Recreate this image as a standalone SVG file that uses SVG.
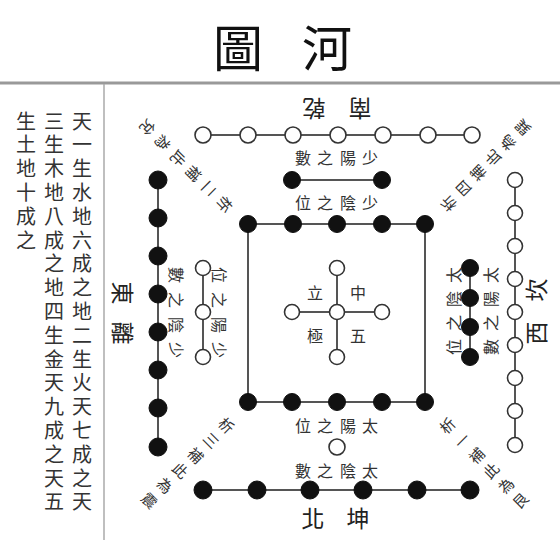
<svg xmlns="http://www.w3.org/2000/svg" width="560" height="540" viewBox="0 0 560 540">
<style>
.t{font-family:"Noto Sans CJK TC","Noto Sans CJK SC",sans-serif;fill:#333;text-anchor:middle;dominant-baseline:central}
.title{font-size:50px;fill:#111}
.side{font-size:20px}
.dir{font-size:23px;fill:#222}
.lab{font-size:16px}
.diag{font-size:15px}
.o{fill:#fff;stroke:#333;stroke-width:1.6}
.b{fill:#111;stroke:#111;stroke-width:1}
.ln{stroke:#555;stroke-width:2;fill:none}
</style>
<rect x="0" y="0" width="560" height="540" fill="#fff"/>
<g id="frame">
<line x1="0" y1="83" x2="560" y2="83" stroke="#999" stroke-width="3"/>
<line x1="104" y1="84" x2="104" y2="540" stroke="#aaa" stroke-width="1.5"/>
</g>
<g id="title"><text class="t title" x="238 327" y="45">圖河</text></g>
<g id="left-text">
<text class="t side" x="82 82 82 82 82 82 82 82 82 82 82 82 82 82 82 82 82" y="120 143.8 167.6 191.4 215.2 239 262.8 286.6 310.4 334.2 358 381.8 405.6 429.4 453.2 477 500.8">天一生水地六成之地二生火天七成之天</text>
<text class="t side" x="54 54 54 54 54 54 54 54 54 54 54 54 54 54 54 54 54" y="120 143.8 167.6 191.4 215.2 239 262.8 286.6 310.4 334.2 358 381.8 405.6 429.4 453.2 477 500.8">三生木地八成之地四生金天九成之天五</text>
<text class="t side" x="26 26 26 26 26 26" y="120 143.8 167.6 191.4 215.2 239">生土地十成之</text>
</g>
<g id="connectors">
<line class="ln" x1="203" y1="135" x2="472" y2="135"/>
<line class="ln" x1="292" y1="180" x2="382" y2="180"/>
<rect class="ln" x="248" y="224" width="177" height="178"/>
<line class="ln" x1="337" y1="268" x2="337" y2="357"/>
<line class="ln" x1="292" y1="312" x2="382" y2="312"/>
<line class="ln" x1="158" y1="180" x2="158" y2="447"/>
<line class="ln" x1="203" y1="268" x2="203" y2="357"/>
<line class="ln" x1="470" y1="268" x2="470" y2="357"/>
<line class="ln" x1="515" y1="180" x2="515" y2="445"/>
<line class="ln" x1="203" y1="490" x2="470" y2="490"/>
</g>
<g id="south-seven">
<circle class="o" cx="203" cy="135" r="8"/><circle class="o" cx="248" cy="135" r="8"/><circle class="o" cx="293" cy="135" r="8"/><circle class="o" cx="338" cy="135" r="8"/><circle class="o" cx="383" cy="135" r="8"/><circle class="o" cx="428" cy="135" r="8"/><circle class="o" cx="472" cy="135" r="8"/>
</g>
<g id="south-two">
<circle class="b" cx="292" cy="180" r="8.5"/><circle class="b" cx="382" cy="180" r="8.5"/>
</g>
<g id="center-ten">
<circle class="b" cx="248" cy="224" r="8.5"/><circle class="b" cx="293" cy="224" r="8.5"/><circle class="b" cx="337" cy="224" r="8.5"/><circle class="b" cx="382" cy="224" r="8.5"/><circle class="b" cx="425" cy="224" r="8.5"/>
<circle class="b" cx="248" cy="402" r="8.5"/><circle class="b" cx="292" cy="402" r="8.5"/><circle class="b" cx="337" cy="402" r="8.5"/><circle class="b" cx="382" cy="402" r="8.5"/><circle class="b" cx="425" cy="402" r="8.5"/>
</g>
<g id="center-five">
<circle class="o" cx="337" cy="268" r="7.5"/><circle class="o" cx="292" cy="312" r="7.5"/><circle class="o" cx="337" cy="312" r="7.5"/><circle class="o" cx="382" cy="312" r="7.5"/><circle class="o" cx="337" cy="357" r="7.5"/>
</g>
<g id="east-eight">
<circle class="b" cx="158" cy="180" r="9"/><circle class="b" cx="158" cy="218" r="9"/><circle class="b" cx="158" cy="256" r="9"/><circle class="b" cx="158" cy="294" r="9"/><circle class="b" cx="158" cy="332" r="9"/><circle class="b" cx="158" cy="370" r="9"/><circle class="b" cx="158" cy="408" r="9"/><circle class="b" cx="158" cy="447" r="9"/>
</g>
<g id="east-three">
<circle class="o" cx="203" cy="268" r="7.5"/><circle class="o" cx="203" cy="312" r="7.5"/><circle class="o" cx="203" cy="357" r="7.5"/>
</g>
<g id="west-four">
<circle class="b" cx="470" cy="268" r="8.5"/><circle class="b" cx="470" cy="298" r="8.5"/><circle class="b" cx="470" cy="327" r="8.5"/><circle class="b" cx="470" cy="357" r="8.5"/>
</g>
<g id="west-nine">
<circle class="o" cx="515" cy="180" r="7.5"/><circle class="o" cx="515" cy="213" r="7.5"/><circle class="o" cx="515" cy="246" r="7.5"/><circle class="o" cx="515" cy="279" r="7.5"/><circle class="o" cx="515" cy="312" r="7.5"/><circle class="o" cx="515" cy="345" r="7.5"/><circle class="o" cx="515" cy="378" r="7.5"/><circle class="o" cx="515" cy="411" r="7.5"/><circle class="o" cx="515" cy="445" r="7.5"/>
</g>
<g id="north-one"><circle class="o" cx="337" cy="447" r="8"/></g>
<g id="north-six">
<circle class="b" cx="203" cy="490" r="9"/><circle class="b" cx="257" cy="490" r="9"/><circle class="b" cx="310" cy="490" r="9"/><circle class="b" cx="363" cy="490" r="9"/><circle class="b" cx="417" cy="490" r="9"/><circle class="b" cx="470" cy="490" r="9"/>
</g>
<g id="labels">
<text class="t dir" transform="translate(337,110) rotate(180)" x="-23 23" y="0">南乾</text>
<text class="t dir" x="313 358" y="517">北坤</text>
<text class="t dir" transform="translate(124,0) rotate(90)" x="293 333" y="0">東離</text>
<text class="t dir" transform="translate(535,0) rotate(-90)" x="-333 -290" y="0">西坎</text>
<text class="t lab" x="303 325 348 370" y="157">數之陽少</text>
<text class="t lab" x="303 325 348 370" y="202">位之陰少</text>
<text class="t lab" x="303 325 348 370" y="425">位之陽太</text>
<text class="t lab" x="303 325 348 370" y="470">數之陰太</text>
<text class="t lab" transform="translate(220,0) rotate(90)" x="275 300 325 350" y="0">位之陽少</text>
<text class="t lab" transform="translate(177,0) rotate(90)" x="275 300 325 350" y="0">數之陰少</text>
<text class="t lab" transform="translate(453,0) rotate(-90)" x="-347 -323 -299 -275" y="0">位之陰太</text>
<text class="t lab" transform="translate(490,0) rotate(-90)" x="-347 -323 -299 -275" y="0">數之陽太</text>
<text class="t lab" x="315 358" y="292">立中</text>
<text class="t lab" x="315 358" y="335">極五</text>
</g>
<g id="diag-nw">
<text class="t diag" transform="translate(225,205) rotate(135)">析</text>
<text class="t diag" transform="translate(209.6,189.6) rotate(135)">二</text>
<text class="t diag" transform="translate(194.2,174.2) rotate(135)">補</text>
<text class="t diag" transform="translate(178.8,158.8) rotate(135)">此</text>
<text class="t diag" transform="translate(163.4,143.4) rotate(135)">為</text>
<text class="t diag" transform="translate(148,128) rotate(135)">兌</text>
</g>
<g id="diag-ne">
<text class="t diag" transform="translate(448,204) rotate(-135)">析</text>
<text class="t diag" transform="translate(462.8,188.8) rotate(-135)">四</text>
<text class="t diag" transform="translate(477.6,173.6) rotate(-135)">補</text>
<text class="t diag" transform="translate(492.4,158.4) rotate(-135)">此</text>
<text class="t diag" transform="translate(507.2,143.2) rotate(-135)">為</text>
<text class="t diag" transform="translate(522,128) rotate(-135)">巽</text>
</g>
<g id="diag-sw">
<text class="t diag" transform="translate(227,425) rotate(45)">析</text>
<text class="t diag" transform="translate(211.6,440) rotate(45)">三</text>
<text class="t diag" transform="translate(196.2,455) rotate(45)">補</text>
<text class="t diag" transform="translate(180.8,470) rotate(45)">此</text>
<text class="t diag" transform="translate(165.4,485) rotate(45)">為</text>
<text class="t diag" transform="translate(150,500) rotate(45)">震</text>
</g>
<g id="diag-se">
<text class="t diag" transform="translate(447,425) rotate(-45)">析</text>
<text class="t diag" transform="translate(461.6,440) rotate(-45)">一</text>
<text class="t diag" transform="translate(476.2,455) rotate(-45)">補</text>
<text class="t diag" transform="translate(490.8,470) rotate(-45)">此</text>
<text class="t diag" transform="translate(505.4,485) rotate(-45)">為</text>
<text class="t diag" transform="translate(520,500) rotate(-45)">艮</text>
</g>
</svg>
